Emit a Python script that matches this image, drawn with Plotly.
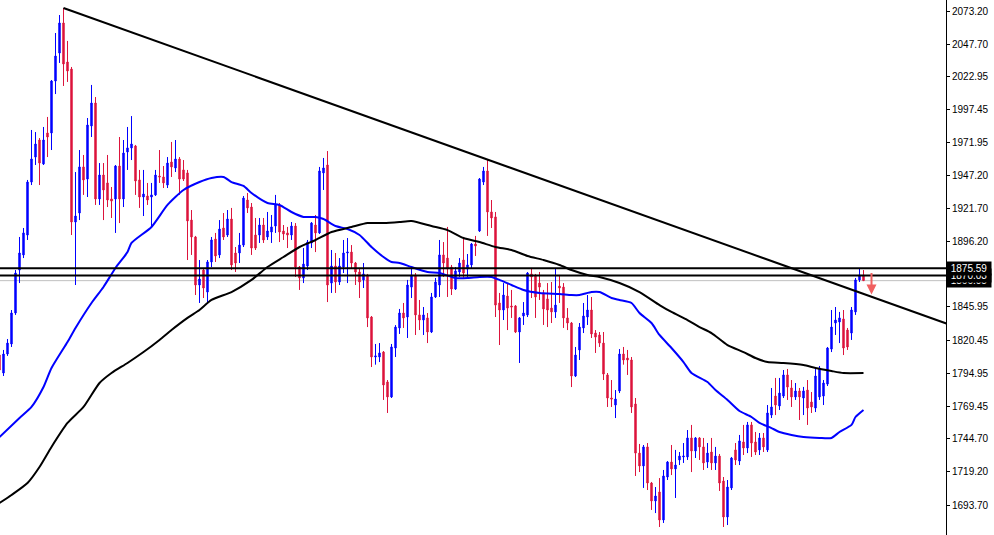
import plotly.graph_objects as go

# ---- candle data (bar index 0..216), prices ----
opens = [1808.9, 1795.1, 1809.7, 1817.4, 1841.2, 1874.2, 1885.8, 1901.1, 1941.8, 1961.0,
         1974.1, 1955.7, 1979.5, 1979.5, 2019.4, 2040.9, 2064.0, 2034.0, 2028.6, 1911.1,
         1918.0, 1953.4, 1944.1, 1984.9, 2002.5, 1928.8, 1947.2, 1941.1, 1928.8, 1928.8,
         1954.1, 1928.8, 1964.9, 1968.0, 1969.5, 1943.4, 1930.3, 1931.1, 1930.3, 1931.9,
         1946.4, 1945.7, 1939.5, 1957.2, 1952.6, 1959.5, 1951.1, 1948.8, 1912.6, 1899.6,
         1862.7, 1874.2, 1857.3, 1880.4, 1898.0, 1885.8, 1906.5, 1901.1, 1913.4, 1887.3,
         1887.3, 1893.4, 1928.0, 1922.6, 1901.1, 1901.1, 1908.8, 1899.6, 1903.4, 1908.0,
         1924.2, 1904.2, 1902.7, 1901.1, 1908.0, 1876.5, 1868.1, 1877.3, 1895.0, 1908.8,
         1902.7, 1948.8, 1954.9, 1864.2, 1877.3, 1865.0, 1876.5, 1887.3, 1888.0, 1879.6,
         1872.7, 1866.6, 1870.4, 1838.1, 1807.4, 1807.4, 1811.2, 1788.2, 1776.7, 1814.3,
         1829.7, 1841.2, 1838.1, 1861.1, 1870.4, 1839.7, 1835.8, 1837.4, 1826.6, 1853.5,
         1862.7, 1885.8, 1883.4, 1876.5, 1859.6, 1872.7, 1881.9, 1875.0, 1878.1, 1894.2,
         1904.2, 1941.8, 1950.3, 1918.8, 1915.0, 1848.9, 1843.5, 1854.2, 1846.6, 1846.6,
         1826.6, 1838.9, 1839.7, 1871.2, 1870.4, 1864.2, 1856.6, 1852.0, 1845.0, 1842.0,
         1861.9, 1861.1, 1837.4, 1833.5, 1792.8, 1812.8, 1829.7, 1838.1, 1843.5, 1825.8,
         1824.3, 1818.1, 1793.6, 1775.9, 1770.5, 1781.3, 1809.7, 1806.6, 1805.1, 1771.3,
         1733.6, 1723.7, 1738.3, 1710.6, 1696.8, 1703.7, 1682.2, 1715.2, 1726.7, 1721.4,
         1728.3, 1730.6, 1730.6, 1745.2, 1735.2, 1745.2, 1738.3, 1726.7, 1734.4, 1726.0,
         1731.3, 1712.1, 1684.5, 1706.8, 1736.0, 1727.5, 1742.1, 1737.5, 1755.2, 1742.1,
         1736.0, 1745.2, 1736.0, 1762.8, 1777.4, 1769.8, 1777.4, 1793.6, 1783.6, 1776.7,
         1781.3, 1775.9, 1782.0, 1772.8, 1768.2, 1776.7, 1777.4, 1786.6, 1813.5, 1833.5,
         1834.3, 1836.6, 1828.1, 1825.8, 1842.0, 1866.6, 1870.4]
highs = [1812.8, 1812.8, 1821.2, 1843.5, 1874.2, 1899.6, 1906.5, 1943.4, 1981.8, 1980.2,
         1975.6, 1984.1, 1991.8, 2020.2, 2056.3, 2070.1, 2075.5, 2050.2, 2030.2, 1949.5,
         1966.4, 1962.6, 1991.0, 2016.4, 2007.1, 1956.4, 1956.4, 1962.6, 1938.0, 1954.9,
         1976.4, 1974.1, 1984.1, 1992.5, 1970.3, 1951.1, 1951.1, 1941.1, 1941.1, 1951.1,
         1966.4, 1954.1, 1961.0, 1972.6, 1974.1, 1961.0, 1958.7, 1951.1, 1920.3, 1900.4,
         1881.9, 1875.8, 1881.9, 1899.6, 1902.7, 1912.6, 1918.0, 1920.3, 1921.9, 1891.9,
         1902.7, 1931.1, 1933.4, 1925.7, 1914.2, 1914.2, 1914.2, 1918.8, 1916.5, 1931.9,
         1925.7, 1908.8, 1907.3, 1911.1, 1910.3, 1877.3, 1891.1, 1897.3, 1911.1, 1916.5,
         1953.4, 1960.3, 1965.6, 1889.6, 1887.3, 1883.4, 1897.3, 1898.8, 1893.4, 1880.4,
         1875.8, 1879.6, 1871.2, 1838.9, 1817.4, 1818.1, 1812.0, 1789.7, 1817.4, 1831.9,
         1844.3, 1848.9, 1866.6, 1875.8, 1871.9, 1851.2, 1845.8, 1841.2, 1856.6, 1868.1,
         1897.3, 1895.7, 1907.3, 1878.1, 1876.5, 1883.4, 1899.6, 1886.5, 1895.0, 1900.4,
         1944.9, 1953.4, 1959.5, 1928.0, 1918.8, 1856.6, 1864.2, 1864.2, 1858.9, 1847.3,
         1838.1, 1849.6, 1872.7, 1875.8, 1871.2, 1872.7, 1858.9, 1864.2, 1865.0, 1875.8,
         1870.4, 1864.2, 1845.0, 1834.3, 1815.1, 1833.5, 1848.9, 1855.0, 1853.5, 1828.1,
         1826.6, 1826.6, 1795.1, 1789.7, 1782.0, 1813.5, 1815.1, 1812.8, 1807.4, 1775.9,
         1740.6, 1739.8, 1741.3, 1711.4, 1707.5, 1714.4, 1720.6, 1727.5, 1739.8, 1736.0,
         1734.4, 1741.3, 1751.3, 1755.2, 1745.9, 1745.9, 1745.2, 1741.3, 1745.2, 1738.3,
         1732.9, 1715.2, 1712.9, 1730.6, 1741.3, 1747.5, 1755.2, 1757.5, 1757.5, 1749.8,
         1749.0, 1749.0, 1770.5, 1783.6, 1791.3, 1791.3, 1797.4, 1798.2, 1789.7, 1787.4,
         1783.6, 1784.4, 1789.7, 1780.5, 1798.2, 1800.5, 1789.7, 1815.1, 1843.5, 1845.8,
         1842.0, 1843.5, 1829.7, 1845.8, 1868.1, 1875.6, 1874.2]
lows = [1793.6, 1792.8, 1808.2, 1815.1, 1839.7, 1864.2, 1883.4, 1897.3, 1939.5, 1954.9,
        1939.5, 1954.9, 1961.0, 1966.4, 2009.4, 2033.3, 2015.6, 2018.7, 1901.1, 1862.7,
        1912.6, 1931.9, 1930.3, 1976.4, 1924.2, 1924.2, 1912.6, 1922.6, 1914.2, 1902.7,
        1910.3, 1922.6, 1951.1, 1958.7, 1931.9, 1921.9, 1915.7, 1924.2, 1906.5, 1931.1,
        1941.1, 1937.2, 1937.2, 1945.7, 1949.5, 1931.9, 1942.6, 1881.9, 1885.8, 1855.0,
        1848.9, 1852.7, 1848.9, 1876.5, 1880.4, 1883.4, 1897.3, 1899.6, 1874.2, 1872.7,
        1879.6, 1891.9, 1918.0, 1885.8, 1889.6, 1895.0, 1895.0, 1897.3, 1895.0, 1902.7,
        1895.7, 1897.3, 1891.1, 1897.3, 1868.9, 1858.9, 1864.2, 1874.2, 1891.1, 1888.0,
        1901.9, 1935.7, 1849.6, 1856.6, 1856.6, 1862.7, 1871.9, 1864.2, 1875.8, 1862.7,
        1852.7, 1860.4, 1830.4, 1799.7, 1801.5, 1803.5, 1774.4, 1764.4, 1775.9, 1807.4,
        1825.1, 1829.7, 1822.0, 1852.7, 1824.3, 1828.1, 1824.3, 1818.1, 1825.8, 1852.7,
        1853.5, 1868.9, 1853.5, 1855.0, 1858.9, 1868.9, 1868.1, 1868.9, 1875.8, 1885.0,
        1903.4, 1939.5, 1900.4, 1906.5, 1838.1, 1816.6, 1835.8, 1828.1, 1837.4, 1825.8,
        1802.8, 1832.0, 1838.1, 1852.7, 1837.4, 1851.2, 1832.0, 1830.4, 1833.5, 1837.4,
        1848.9, 1829.7, 1828.1, 1784.3, 1792.0, 1805.1, 1825.8, 1832.0, 1822.0, 1810.5,
        1815.1, 1789.7, 1769.0, 1769.0, 1760.5, 1779.7, 1801.5, 1793.6, 1764.4, 1716.0,
        1719.0, 1706.8, 1705.2, 1689.9, 1687.5, 1676.8, 1679.9, 1712.9, 1716.7, 1699.1,
        1724.4, 1726.0, 1728.3, 1719.0, 1729.8, 1728.3, 1720.6, 1722.1, 1720.6, 1720.6,
        1704.5, 1676.8, 1678.3, 1705.2, 1724.4, 1724.4, 1732.1, 1733.6, 1730.6, 1732.1,
        1732.1, 1734.4, 1734.4, 1760.5, 1762.8, 1766.7, 1775.9, 1774.4, 1769.0, 1774.4,
        1759.0, 1762.8, 1755.2, 1764.4, 1765.1, 1774.4, 1770.5, 1785.1, 1811.2, 1824.3,
        1818.1, 1808.9, 1812.8, 1820.5, 1839.7, 1865.0, 1865.8]
closes = [1797.4, 1809.7, 1818.1, 1841.2, 1871.9, 1887.3, 1902.7, 1941.8, 1959.5, 1971.0,
          1956.4, 1974.1, 1976.4, 2019.4, 2038.6, 2064.0, 2032.5, 2027.1, 1911.1, 1915.7,
          1953.4, 1943.4, 1985.6, 2002.5, 1928.8, 1947.2, 1935.7, 1928.0, 1927.2, 1954.1,
          1928.8, 1964.1, 1968.0, 1971.0, 1942.6, 1930.3, 1932.6, 1928.0, 1931.9, 1947.2,
          1945.7, 1941.1, 1956.4, 1953.4, 1959.5, 1944.1, 1944.1, 1911.9, 1899.6, 1862.7,
          1867.3, 1860.4, 1880.4, 1897.3, 1885.0, 1905.7, 1899.6, 1913.4, 1878.1, 1879.6,
          1893.4, 1929.5, 1921.9, 1891.1, 1891.1, 1908.8, 1897.3, 1904.2, 1907.3, 1924.2,
          1903.4, 1901.9, 1901.1, 1908.0, 1876.5, 1868.1, 1878.8, 1895.7, 1910.3, 1902.7,
          1950.3, 1952.6, 1862.7, 1877.3, 1865.0, 1877.3, 1887.3, 1888.0, 1879.6, 1872.7,
          1865.0, 1871.2, 1837.4, 1807.4, 1808.2, 1810.5, 1785.9, 1776.7, 1815.1, 1830.4,
          1841.2, 1837.4, 1862.7, 1870.4, 1839.7, 1835.8, 1839.7, 1826.6, 1853.5, 1865.0,
          1885.8, 1879.6, 1875.0, 1859.6, 1873.5, 1879.6, 1871.9, 1878.1, 1894.2, 1892.7,
          1944.1, 1950.3, 1918.8, 1914.2, 1847.3, 1843.5, 1855.0, 1845.0, 1845.8, 1826.6,
          1837.4, 1841.2, 1871.9, 1868.9, 1853.5, 1861.1, 1844.3, 1843.5, 1842.0, 1847.3,
          1860.4, 1837.4, 1833.5, 1792.8, 1808.9, 1830.4, 1838.9, 1843.5, 1825.1, 1822.7,
          1818.1, 1794.3, 1775.9, 1775.1, 1775.1, 1809.7, 1805.1, 1805.1, 1769.0, 1733.6,
          1723.7, 1738.3, 1710.6, 1696.8, 1700.6, 1682.2, 1716.0, 1726.7, 1721.4, 1724.4,
          1731.3, 1731.3, 1745.2, 1735.2, 1745.2, 1738.3, 1726.0, 1733.6, 1726.0, 1731.3,
          1710.6, 1684.5, 1707.5, 1729.8, 1728.3, 1742.9, 1737.5, 1755.2, 1741.3, 1734.4,
          1745.2, 1738.3, 1764.4, 1769.0, 1770.5, 1779.7, 1793.6, 1784.3, 1776.7, 1781.3,
          1776.7, 1781.3, 1768.2, 1769.0, 1792.8, 1798.9, 1787.4, 1814.3, 1830.4, 1835.8,
          1837.4, 1814.3, 1815.1, 1843.5, 1866.6, 1870.4, 1866.05]
bars = list(range(len(opens)))

# ---- moving averages (read at sample bars) ----
ma_fast_bars = [0, 5, 8, 11, 13, 17, 19, 23, 26, 29, 32, 33, 38, 42, 46, 50, 53, 56, 58, 61,
                63, 67, 70, 73, 76, 79, 81, 84, 87, 90, 93, 96, 98, 100, 103, 107, 110, 114,
                117, 120, 123, 125, 128, 131, 135, 140, 143, 145, 148, 150, 153, 155, 158,
                160, 163, 165, 168, 171, 173, 177, 179, 182, 185, 188, 190, 193, 195, 198,
                201, 205, 208, 210, 213, 214, 216]
ma_fast = [1745.9, 1760.5, 1769.0, 1784.3, 1798.9, 1818.9, 1829.7, 1848.9, 1861.2, 1875.8,
           1888.0, 1895.0, 1907.3, 1924.2, 1935.7, 1941.8, 1944.9, 1945.7, 1941.8, 1938.8,
           1933.4, 1925.7, 1924.2, 1918.8, 1915.0, 1915.0, 1913.4, 1908.0, 1905.7, 1901.1,
           1891.9, 1884.2, 1880.4, 1879.6, 1876.5, 1872.7, 1871.9, 1868.1, 1868.1, 1868.9,
           1868.9, 1866.6, 1862.7, 1858.9, 1856.6, 1855.8, 1855.0, 1855.0, 1857.3, 1857.3,
           1852.7, 1851.2, 1848.9, 1841.2, 1833.5, 1824.3, 1814.3, 1803.5, 1795.1, 1788.2,
           1782.0, 1774.4, 1765.9, 1761.3, 1756.7, 1752.8, 1749.8, 1747.5, 1745.9, 1745.2,
           1745.2, 1749.8, 1755.2, 1761.3, 1766.7]
ma_slow_bars = [0, 3, 7, 10, 13, 17, 21, 25, 28, 32, 36, 40, 43, 47, 50, 53, 58, 63, 67, 71,
                75, 79, 83, 88, 92, 96, 100, 103, 108, 112, 116, 120, 124, 128, 132, 136,
                140, 143, 147, 150, 155, 160, 165, 168, 172, 175, 178, 182, 186, 189, 192,
                196, 201, 204, 208, 211, 216]
ma_slow = [1695.2, 1701.4, 1710.6, 1722.9, 1738.3, 1756.7, 1769.0, 1787.4, 1795.1, 1802.8,
           1811.2, 1820.5, 1828.1, 1837.4, 1843.5, 1851.2, 1857.3, 1866.6, 1876.5, 1884.2,
           1891.9, 1897.3, 1903.4, 1907.3, 1910.3, 1910.3, 1911.1, 1911.9, 1908.0, 1904.9,
           1898.8, 1895.7, 1891.9, 1889.6, 1885.0, 1881.9, 1878.1, 1874.2, 1870.4, 1868.9,
           1864.2, 1857.3, 1847.3, 1842.0, 1835.8, 1830.4, 1825.8, 1816.6, 1811.2, 1806.6,
           1803.5, 1802.8, 1801.2, 1798.9, 1796.6, 1795.1, 1795.1]

# ---- trendline anchors (touching highs), horizontal levels, axis ticks ----
trend_bars = [16, 122]
trend_prices = [2075.5, 1959.1]
levels = [1875.59, 1870.03]
bid_price = 1866.05
tick_vals = [2073.20, 2047.70, 2022.95, 1997.45, 1971.95, 1947.20, 1921.70, 1896.20,
             1845.95, 1820.45, 1794.95, 1769.45, 1744.70, 1719.20, 1693.70]
tick_text = ["%.2f" % v for v in tick_vals]
arrow_bar = 218
arrow_from = 1873.0
arrow_to = 1855.5

X_MIN, X_MAX = 0.125, 236.625
Y_MIN, Y_MAX = 1670.65, 2081.65

fig = go.Figure()

fig.add_trace(go.Candlestick(
    x=bars, open=opens, high=highs, low=lows, close=closes,
    increasing=dict(line=dict(color="#0000FF", width=1), fillcolor="#0000FF"),
    decreasing=dict(line=dict(color="#DC143C", width=1), fillcolor="#DC143C"),
    whiskerwidth=0, showlegend=False, hoverinfo="skip"))

fig.add_trace(go.Scatter(x=ma_fast_bars, y=ma_fast, mode="lines",
                         line=dict(color="#0000FF", width=2, shape="spline", smoothing=0.6),
                         showlegend=False, hoverinfo="skip"))
fig.add_trace(go.Scatter(x=ma_slow_bars, y=ma_slow, mode="lines",
                         line=dict(color="#000000", width=2, shape="spline", smoothing=0.6),
                         showlegend=False, hoverinfo="skip"))

# trendline as a ray from the first anchor through the second to the right edge
slope = (trend_prices[1] - trend_prices[0]) / (trend_bars[1] - trend_bars[0])
end_bar = X_MAX + 1
fig.add_trace(go.Scatter(x=[trend_bars[0], end_bar],
                         y=[trend_prices[0], trend_prices[0] + slope * (end_bar - trend_bars[0])],
                         mode="lines", line=dict(color="#000000", width=2),
                         showlegend=False, hoverinfo="skip"))

shapes = []
for lv in levels:
    shapes.append(dict(type="line", xref="paper", x0=0, x1=1, yref="y", y0=lv, y1=lv,
                       line=dict(color="#000000", width=2), layer="above"))
shapes.append(dict(type="line", xref="paper", x0=0, x1=1, yref="y", y0=bid_price, y1=bid_price,
                   line=dict(color="#C0C0C0", width=1), layer="below"))

annotations = []
for val in [bid_price] + levels[::-1]:
    annotations.append(dict(xref="paper", x=1, xanchor="left", xshift=0,
                            yref="y", y=val, yanchor="middle",
                            text="%.2f" % val, showarrow=False,
                            bgcolor="#000000", font=dict(color="#FFFFFF", size=10,
                                                         family="Liberation Sans, Arial"),
                            borderpad=1, width=42, align="center"))
annotations.append(dict(x=arrow_bar, y=arrow_to, ax=arrow_bar, ay=arrow_from,
                        xref="x", yref="y", axref="x", ayref="y", text="",
                        showarrow=True, arrowhead=2, arrowsize=1, arrowwidth=2,
                        arrowcolor="#F06060"))

fig.update_layout(
    width=994, height=535,
    margin=dict(l=0, r=48, t=0, b=0),
    paper_bgcolor="#FFFFFF", plot_bgcolor="#FFFFFF",
    boxgap=0.5,
    showlegend=False,
    shapes=shapes, annotations=annotations,
    xaxis=dict(range=[X_MIN, X_MAX], visible=False, rangeslider=dict(visible=False),
               showgrid=False, zeroline=False),
    yaxis=dict(range=[Y_MIN, Y_MAX], side="right", showgrid=False, zeroline=False,
               showline=True, linecolor="#000000", linewidth=1,
               ticks="outside", ticklen=3, tickcolor="#000000",
               tickvals=tick_vals, ticktext=tick_text,
               tickfont=dict(size=10, color="#000000", family="Liberation Sans, Arial")),
)

fig.write_html("out.html",
               config={"displayModeBar": False},
               post_script="document.body.style.margin='0px';"
                           "document.body.style.overflow='hidden';")
